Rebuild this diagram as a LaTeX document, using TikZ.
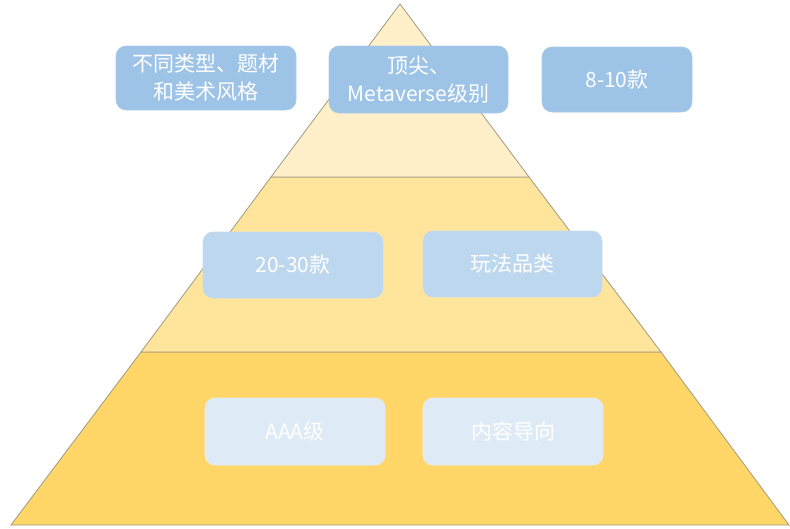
\documentclass[tikz,border=0pt]{standalone}
\usepackage{fontspec}
\setmainfont{Noto Sans CJK SC}
\begin{document}
\begin{tikzpicture}[x=1pt,y=-1pt,
  layer/.style={draw=pyline, line width=0.8pt},
  box/.style={rounded corners=10pt, text=white, font=\fontsize{21}{28}\selectfont, align=center, inner sep=0pt, draw=#1!85!white, fill=#1, line width=0.6pt},
  box/.default=topblue]
\definecolor{pyline}{HTML}{A09A80}
\definecolor{ltop}{HTML}{FFF0C9}
\definecolor{lmid}{HTML}{FFE59B}
\definecolor{lbot}{HTML}{FFD667}
\definecolor{topblue}{HTML}{9DC3E6}
\definecolor{midblue}{HTML}{BDD7EE}
\definecolor{botblue}{HTML}{DEEBF7}
\useasboundingbox (0,0) rectangle (790,528);
% pyramid
\coordinate (apex) at (400,4);
\coordinate (l1) at (271,177);
\coordinate (r1) at (529,177);
\coordinate (l2) at (141,352);
\coordinate (r2) at (661,352);
\coordinate (l3) at (11,525);
\coordinate (r3) at (789,525);
\path[layer, fill=lbot] (l2) -- (r2) -- (r3) -- (l3) -- cycle;
\path[layer, fill=lmid] (l1) -- (r1) -- (r2) -- (l2) -- cycle;
\path[layer, fill=ltop] (apex) -- (r1) -- (l1) -- cycle;
% boxes
\node[box=topblue, minimum width=180pt, minimum height=64pt] (b1) at (206,78) {不同类型、题材\\和美术风格};
\node[box=topblue, minimum width=179pt, minimum height=67pt] (b2) at (418.5,79.5) {顶尖、\\Metaverse级别};
\node[box=topblue, minimum width=150pt, minimum height=65pt] (b3) at (617,79.5) {8-10款};
\node[box=midblue, minimum width=180pt, minimum height=66pt] (b4) at (293,265) {20-30款};
\node[box=midblue, minimum width=179pt, minimum height=66pt] (b5) at (512.5,264) {玩法品类};
\node[box=botblue, minimum width=180pt, minimum height=67pt] (b6) at (295,431.5) {AAA级};
\node[box=botblue, minimum width=180pt, minimum height=67pt] (b7) at (513,431.5) {内容导向};
\end{tikzpicture}
\end{document}
